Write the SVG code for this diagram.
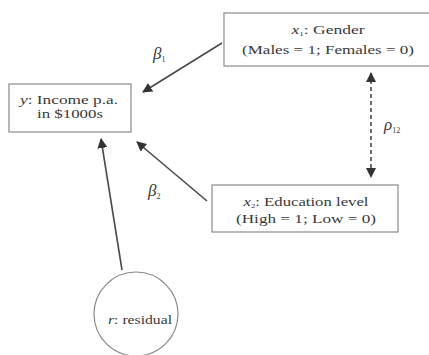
<svg xmlns="http://www.w3.org/2000/svg" width="429" height="355" viewBox="0 0 429 355">
<defs>
<style>
.box{fill:#fff;stroke:#8a8a8a;stroke-width:1.2}
.t{font-family:"Liberation Serif","Times New Roman",serif;font-size:13.5px;fill:#3a3a3a;text-anchor:middle}
.lab{font-family:"Liberation Serif","Times New Roman",serif;font-size:17px;fill:#3a3a3a;font-style:italic}
.sub{font-size:8px;font-style:normal}
.c{stroke:#4a4a4a;stroke-width:1.6;fill:none}
.d{stroke:#4a4a4a;stroke-width:1.6;fill:none;stroke-dasharray:4 3}
</style>
<marker id="ah" viewBox="0 0 10 10" refX="9" refY="5" markerWidth="10" markerHeight="10" markerUnits="userSpaceOnUse" orient="auto-start-reverse">
<path d="M0,0 L10,5 L0,10 z" fill="#333"/>
</marker>
</defs>
<rect width="429" height="355" fill="#fff"/>
<g id="connectors">
<line class="c" x1="222" y1="43" x2="143" y2="92" marker-end="url(#ah)"/>
<line class="c" x1="207" y1="201" x2="137" y2="142" marker-end="url(#ah)"/>
<line class="c" x1="122" y1="270" x2="101" y2="139" marker-end="url(#ah)"/>
<line class="d" x1="371" y1="73" x2="371" y2="177" marker-start="url(#ah)" marker-end="url(#ah)"/>
<text class="lab" x="153" y="59">β<tspan class="sub" dy="3">1</tspan></text>
<text class="lab" x="148" y="196">β<tspan class="sub" dy="3">2</tspan></text>
<text class="lab" x="384" y="130">ρ<tspan class="sub" dy="3">12</tspan></text>
</g>
<g id="y">
<rect class="box" x="9" y="84" width="122" height="48"/>
<text class="t" x="69" y="104" textLength="98" lengthAdjust="spacingAndGlyphs"><tspan font-style="italic">y</tspan>: Income p.a.</text>
<text class="t" x="70" y="118" textLength="66" lengthAdjust="spacingAndGlyphs">in $1000s</text>
</g>
<g id="x1">
<rect class="box" x="224" y="13" width="215" height="53"/>
<text class="t" x="328" y="34" textLength="73" lengthAdjust="spacingAndGlyphs"><tspan font-style="italic">x</tspan><tspan font-size="7" dy="2">1</tspan><tspan dy="-2">: Gender</tspan></text>
<text class="t" x="328" y="54" textLength="172" lengthAdjust="spacingAndGlyphs">(Males = 1; Females = 0)</text>
</g>
<g id="x2">
<rect class="box" x="212" y="185" width="186" height="47"/>
<text class="t" x="306" y="206" textLength="125" lengthAdjust="spacingAndGlyphs"><tspan font-style="italic">x</tspan><tspan font-size="7" dy="2">2</tspan><tspan dy="-2">: Education level</tspan></text>
<text class="t" x="306" y="223" textLength="140" lengthAdjust="spacingAndGlyphs">(High = 1; Low = 0)</text>
</g>
<g id="r">
<circle cx="136" cy="314" r="42" fill="#fff" stroke="#8a8a8a" stroke-width="1.2"/>
<text class="t" x="140" y="324" textLength="64" lengthAdjust="spacingAndGlyphs"><tspan font-style="italic">r</tspan>: residual</text>
</g>
</svg>
